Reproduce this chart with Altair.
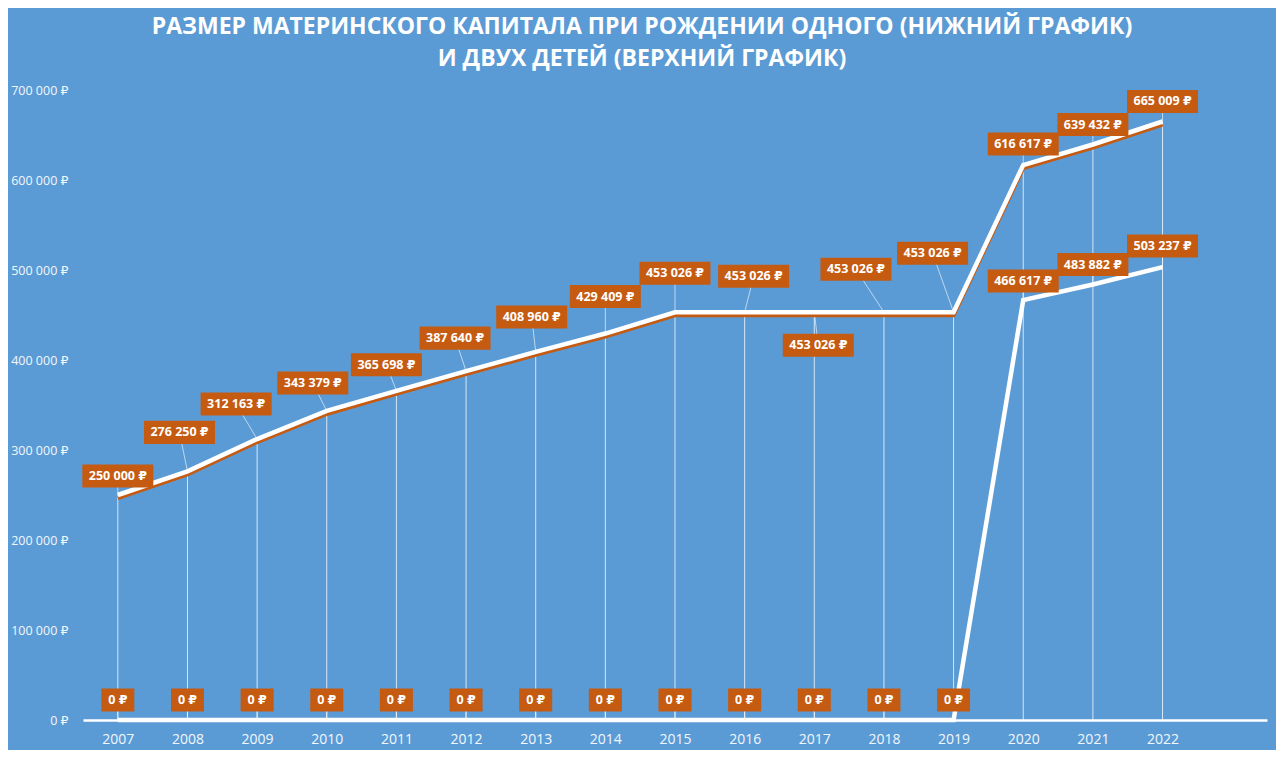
import altair as alt
import pandas as pd

# ---- data ----
years = [2007, 2008, 2009, 2010, 2011, 2012, 2013, 2014, 2015, 2016, 2017, 2018, 2019, 2020, 2021, 2022]
two_children = [250000, 276250, 312163, 343379, 365698, 387640, 408960, 429409,
                453026, 453026, 453026, 453026, 453026, 616617, 639432, 665009]
one_child = [0, 0, 0, 0, 0, 0, 0, 0, 0, 0, 0, 0, 0, 466617, 483882, 503237]
y_ticks = [0, 100000, 200000, 300000, 400000, 500000, 600000, 700000]

# label placement offsets (pixels, relative to the data point)
upper_dx = [0, -8, -21, -14, -10, -11, -4, 0, 0, 9, 4, -28, -21, 0, 0, 0]
upper_dy = [-19, -39, -35, -28, -26, -33, -35, -37, -39, -36, 33, -43, -59, -21, -20, -20]
lower_dx = [0, 0, 0, 0, 0, 0, 0, 0, 0, 0, 0, 0, 0, 0, 0, 0]
lower_dy = [-20, -20, -20, -20, -20, -20, -20, -20, -20, -20, -20, -20, -20, -19, -20, -21]

title_lines = ["РАЗМЕР МАТЕРИНСКОГО КАПИТАЛА ПРИ РОЖДЕНИИ ОДНОГО (НИЖНИЙ ГРАФИК)",
               "И ДВУХ ДЕТЕЙ (ВЕРХНИЙ ГРАФИК)"]

BG = "#5B9BD5"
ORANGE = "#C55A11"
FONT = "Open Sans, DejaVu Sans"

W, H = 1184, 630
X_DOM = [2006.5, 2023.5]
Y_DOM = [0, 700000]
px_per_year = W / (X_DOM[1] - X_DOM[0])
rub_per_px = (Y_DOM[1] - Y_DOM[0]) / H


def fmt(v):
    return f"{v:,}".replace(",", " ") + " ₽"


upper = pd.DataFrame({"year": years, "value": two_children})
lower = pd.DataFrame({"year": years, "value": one_child})

rows = []
for y, v, dx, dy in zip(years, two_children, upper_dx, upper_dy):
    rows.append(dict(year=y, value=v, lx=y + dx / px_per_year, ly=v - dy * rub_per_px, text=fmt(v)))
for y, v, dx, dy in zip(years, one_child, lower_dx, lower_dy):
    rows.append(dict(year=y, value=v, lx=y + dx / px_per_year, ly=v - dy * rub_per_px, text=fmt(v)))
labels = pd.DataFrame(rows)
labels["wide"] = labels["text"].str.len() > 4

xs = alt.Scale(domain=X_DOM, nice=False, zero=False)
ys = alt.Scale(domain=Y_DOM, nice=False, zero=True)

x_axis = alt.Axis(values=years, format="d", title=None, grid=False, ticks=False,
                  domain=True, domainColor="white", domainWidth=2.5,
                  labelColor="#F2F7FC", labelFont=FONT, labelFontSize=14,
                  labelPadding=12)
y_axis = alt.Axis(values=y_ticks, title=None, grid=False, ticks=False, domain=False,
                  labelExpr="replace(format(datum.value, ','), regexp(',', 'g'), ' ') + ' ₽'",
                  labelColor="#F2F7FC", labelFont=FONT, labelFontSize=12.5,
                  labelPadding=15)


def X(f):
    return alt.X(f"{f}:Q", scale=xs, axis=x_axis)


def Y(f):
    return alt.Y(f"{f}:Q", scale=ys, axis=y_axis)


drops = alt.Chart(upper).mark_rule(color="white", strokeWidth=1, opacity=0.75).encode(
    x=X("year"), y=Y("value"), y2=alt.datum(0),
)

leaders = alt.Chart(labels).mark_rule(color="white", strokeWidth=1, opacity=0.6).encode(
    x=X("year"), y=Y("value"), x2="lx:Q", y2="ly:Q",
)

upper_shadow = alt.Chart(upper).mark_line(color=ORANGE, strokeWidth=4, yOffset=3).encode(
    x=X("year"), y=Y("value"),
)
upper_line = alt.Chart(upper).mark_line(color="white", strokeWidth=4.5).encode(
    x=X("year"), y=Y("value"),
)
lower_line = alt.Chart(lower).mark_line(color="white", strokeWidth=4.5).encode(
    x=X("year"), y=Y("value"),
)

wide_box = "M-1,-0.324L1,-0.324L1,0.324L-1,0.324Z"
narrow_box = "M-1,-0.697L1,-0.697L1,0.697L-1,0.697Z"

boxes_wide = alt.Chart(labels).transform_filter("datum.wide").mark_point(
    shape=wide_box, size=71 * 71, filled=True, fill=ORANGE, opacity=1, strokeWidth=0
).encode(x=X("lx"), y=Y("ly"))
boxes_narrow = alt.Chart(labels).transform_filter("!datum.wide").mark_point(
    shape=narrow_box, size=33 * 33, filled=True, fill=ORANGE, opacity=1, strokeWidth=0
).encode(x=X("lx"), y=Y("ly"))

texts = alt.Chart(labels).mark_text(
    color="white", font=FONT, fontSize=12.5, fontWeight="bold", align="center", baseline="middle"
).encode(x=X("lx"), y=Y("ly"), text="text:N")

chart = alt.layer(
    drops, leaders, upper_shadow, upper_line, lower_line, boxes_wide, boxes_narrow, texts
).properties(
    width=W,
    height=H,
    autosize=alt.AutoSizeParams(type="none"),
    padding={"left": 75, "top": 82, "right": 9, "bottom": 30},
    background=BG,
    title=alt.TitleParams(
        text=title_lines, color="white", font=FONT, fontSize=23, fontWeight="bold",
        anchor="middle", frame="group", dx=-33, offset=13, lineHeight=32,
    ),
).configure_view(stroke=None)

chart.save("out.html", embed_options={"renderer": "svg", "actions": False})
